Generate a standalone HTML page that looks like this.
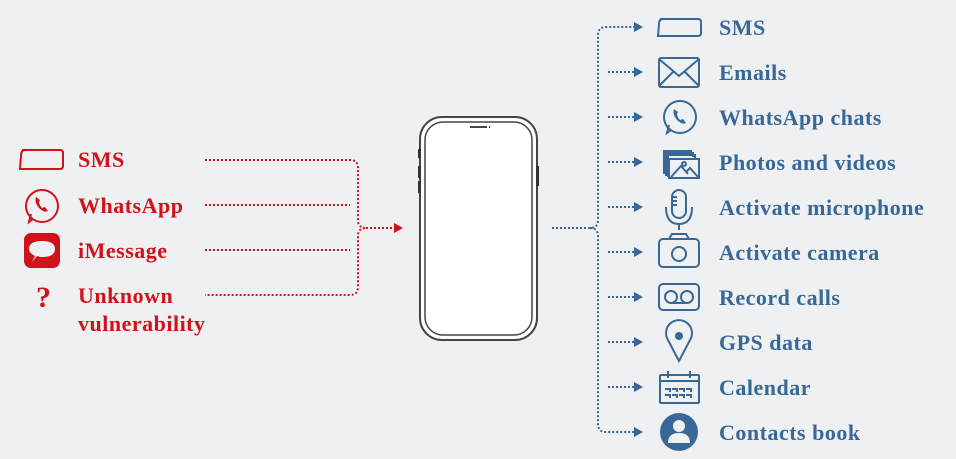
<!DOCTYPE html>
<html><head><meta charset="utf-8"><style>
html,body{margin:0;padding:0;background:#eff0f2;}
svg{display:block}
text{font-family:"Liberation Serif",serif;font-weight:bold;font-size:22px;letter-spacing:0.5px}
</style></head><body>
<svg width="956" height="459" viewBox="0 0 956 459" xmlns="http://www.w3.org/2000/svg">
<rect width="956" height="459" fill="#eff0f2"/>
<g fill="none" stroke="#d0121b" stroke-width="2" stroke-dasharray="2 2">
<path d="M205 160 H350 Q358 160 358 168 V220 Q358 228 366 228 Q358 228 358 236 V287 Q358 295 350 295 H205"/>
<path d="M205 205 H350"/><path d="M205 250 H350"/>
<path d="M366 228 H394"/>
</g>
<path d="M394 223 L403 228 L394 233Z" fill="#d0121b"/>
<g fill="#d0121b">
<text x="78" y="167">SMS</text>
<text x="78" y="213">WhatsApp</text>
<text x="78" y="258">iMessage</text>
<text x="78" y="303">Unknown</text>
<text x="78" y="331">vulnerability</text>
<text x="36" y="307" style="font-size:30px;letter-spacing:0">?</text>
</g>
<g fill="none" stroke="#d0121b" stroke-width="2">
<path d="M22 150 H60 Q63 150 63 153 V166 Q63 169 60 169 H20 L21 156 Q21 150 25 150Z"/>
<circle cx="42" cy="206" r="16"/>
<path d="M33 219 L29 222 L31 214"/>
</g>
<path d="M36 197 Q34 202 39 208 Q44 213 48 211 L45 207 L42 208 Q39 205 39 202 L40 200 Z" fill="#d0121b"/>
<rect x="24" y="233" width="36" height="35" rx="7" fill="#d0121b"/>
<path d="M32 262 L35 256 Q29 253 29 249 Q29 241 42 241 Q55 241 55 249 Q55 257 42 257 Q39 257 37 256Z" fill="#eff0f2"/>
<rect x="420" y="117" width="117" height="223" rx="22" fill="#fff" stroke="#444" stroke-width="2"/>
<rect x="425" y="122" width="107" height="213" rx="18" fill="#fff" stroke="#444" stroke-width="1.5"/>
<line x1="470" y1="127" x2="487" y2="127" stroke="#444" stroke-width="2"/>
<line x1="489" y1="127" x2="490" y2="127" stroke="#444" stroke-width="2"/>
<g fill="#333"><rect x="418" y="149" width="3" height="9"/><rect x="418" y="166" width="3" height="12"/><rect x="418" y="181" width="3" height="12"/><rect x="536" y="166" width="3" height="20"/></g>
<g fill="none" stroke="#386897" stroke-width="2" stroke-dasharray="2 2">
<path d="M552 228 H590 Q598 228 598 220 V35 Q598 27 606 27 H634"/>
<path d="M590 228 Q598 228 598 236 V424 Q598 432 606 432 H634"/>
<path d="M608 72H634M608 117H634M608 162H634M608 207H634M608 252H634M608 297H634M608 342H634M608 387H634"/>
</g>
<g fill="#386897">
<path d="M634 22 L643 27 L634 32ZM634 67 L643 72 L634 77ZM634 112 L643 117 L634 122ZM634 157 L643 162 L634 167ZM634 202 L643 207 L634 212ZM634 247 L643 252 L634 257ZM634 292 L643 297 L634 302ZM634 337 L643 342 L634 347ZM634 382 L643 387 L634 392ZM634 427 L643 432 L634 437Z"/>
<text x="719" y="35">SMS</text>
<text x="719" y="80">Emails</text>
<text x="719" y="125">WhatsApp chats</text>
<text x="719" y="170">Photos and videos</text>
<text x="719" y="215">Activate microphone</text>
<text x="719" y="260">Activate camera</text>
<text x="719" y="305">Record calls</text>
<text x="719" y="350">GPS data</text>
<text x="719" y="395">Calendar</text>
<text x="719" y="440">Contacts book</text>
</g>
<g fill="none" stroke="#386897" stroke-width="2">
<path d="M660 19 H698 Q701 19 701 22 V33 Q701 36 698 36 H658 L659 24 Q659 19 663 19Z"/>
<rect x="659" y="58" width="40" height="29" rx="2"/><path d="M659 59 L679 76 L699 59 M659 86 L673 72 M699 86 L685 72"/>
<circle cx="680" cy="117" r="16"/>
<path d="M671 130 L667 133 L669 125"/>
<rect x="669" y="159" width="30" height="19"/><path d="M664 174 V151 H691 V155 M666 176 V153 H693 V157 M668 177 V155 H695 V159"/>
<path d="M671 177 L681 166 L688 174 M686 172 L690 168 L698 177"/><circle cx="684" cy="164" r="2"/>
<rect x="672" y="190" width="14" height="28" rx="7"/><path d="M666 207 Q666 224 679 224 Q692 224 692 207 M679 224 V230 M672 197h5M672 201h5M672 205h5"/>
<rect x="659" y="239" width="40" height="28" rx="4"/><path d="M669 239 L672 234 H686 L689 239"/><circle cx="679" cy="254" r="7"/>
<rect x="659" y="284" width="40" height="26" rx="4"/><circle cx="671" cy="297" r="6"/><circle cx="687" cy="297" r="6"/><path d="M671 303 H687"/>
<path d="M679 361 L668 340 A13 13 0 1 1 690 340 Z"/>
<rect x="660" y="375" width="39" height="28" rx="1"/><path d="M660 381 H699 M668 371 V378 M690 371 V378 M665 389h5v3M672 389h5v3M679 389h5v3M686 389h5v3M665 395h5v3M672 395h5v3M679 395h5v3M686 395h5v3"/>
</g>
<path d="M674 109 Q672 114 677 120 Q682 125 686 123 L683 119 L680 120 Q677 117 677 114 L678 112 Z" fill="#386897"/>
<circle cx="679" cy="336" r="4" fill="#386897"/>
<circle cx="679" cy="432" r="19" fill="#386897"/>
<circle cx="679" cy="426" r="6" fill="#eff0f2"/>
<path d="M668 443 Q668 433 679 433 Q690 433 690 443Z" fill="#eff0f2"/>
</svg>
</body></html>
